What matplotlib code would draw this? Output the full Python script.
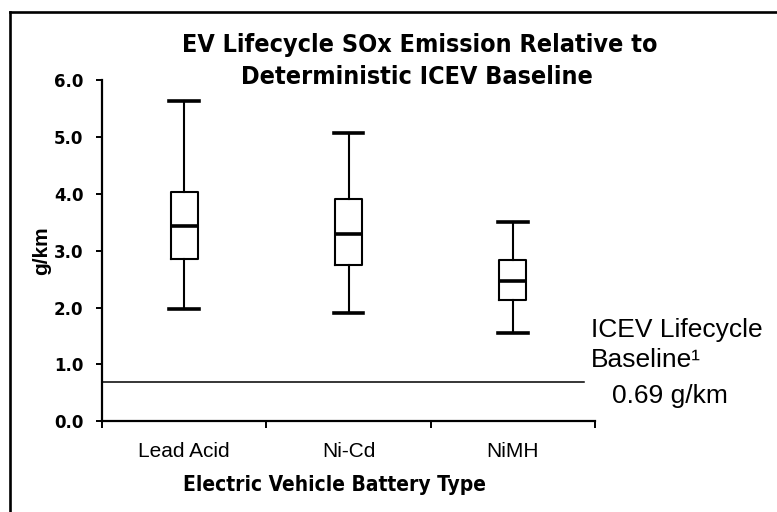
import matplotlib
matplotlib.use("Agg")
import matplotlib.pyplot as plt
from matplotlib.lines import Line2D

# battery types and box statistics (g/km)
batteries = ["Lead Acid", "Ni-Cd", "NiMH"]
whisk_lo  = [1.97, 1.90, 1.55]
q1        = [2.85, 2.75, 2.13]
medians   = [3.43, 3.30, 2.47]
q3        = [4.03, 3.91, 2.83]
whisk_hi  = [5.63, 5.07, 3.51]

ICEV_BASE = 0.69          # deterministic ICEV lifecycle baseline
YTICKS    = [0.0, 1.0, 2.0, 3.0, 4.0, 5.0, 6.0]

ARIAL = ["Liberation Sans", "DejaVu Sans"]
COND  = dict(family="DejaVu Sans", fontstretch="condensed", fontweight="bold")

stats = [dict(label=b, whislo=lo, q1=a, med=m, q3=c, whishi=hi)
         for b, lo, a, m, c, hi in zip(batteries, whisk_lo, q1, medians, q3, whisk_hi)]

fig = plt.figure(figsize=(7.77, 5.12), dpi=100)
ax = fig.add_axes([0.1313, 0.1771, 0.6345, 0.6667])

pos = list(range(1, len(batteries) + 1))
ax.bxp(stats, positions=pos, widths=0.165, capwidths=0.18, showfliers=False,
       boxprops=dict(color="black", lw=1.5),
       whiskerprops=dict(color="black", lw=1.5),
       capprops=dict(color="black", lw=2.6),
       medianprops=dict(color="black", lw=2.6))

# baseline reference line
ax.axhline(ICEV_BASE, xmin=0, xmax=0.978, color="black", lw=1.1)

ax.set_xlim(0.5, len(batteries) + 0.5)
ax.set_ylim(0, 6)
for s in ("top", "right"):
    ax.spines[s].set_visible(False)
for s in ("left", "bottom"):
    ax.spines[s].set_linewidth(1.6)

ax.set_yticks(YTICKS)
ax.set_yticklabels([f"{v:.1f}" for v in YTICKS], fontsize=12,
                   fontweight="bold", family="DejaVu Sans")
ax.tick_params(axis="y", direction="out", length=4.3, width=1.4, pad=9)

# category boundaries as ticks, names at the centres
ax.set_xticks([p - 0.5 for p in pos] + [pos[-1] + 0.5])
ax.set_xticklabels([])
ax.tick_params(axis="x", which="major", direction="out", length=5, width=1.4)
ax.set_xticks(pos, minor=True)
ax.set_xticklabels(batteries, minor=True, fontsize=15, family=ARIAL)
ax.tick_params(axis="x", which="minor", length=0, pad=15)

fig.text(0.540, 0.912, "EV Lifecycle SOx Emission Relative to", ha="center", va="center",
         fontsize=18, **COND)
fig.text(0.537, 0.850, "Deterministic ICEV Baseline", ha="center", va="center",
         fontsize=18, **COND)
fig.text(0.431, 0.053, "Electric Vehicle Battery Type", ha="center", va="center",
         fontsize=15, **COND)
fig.text(0.053, 0.51, "g/km", ha="center", va="center", rotation=90,
         fontsize=15, fontweight="bold", family=ARIAL)

# baseline annotation to the right of the plot
yx = ax.get_yaxis_transform()
ax.text(0.991, 1.60, "ICEV Lifecycle", transform=yx,
        ha="left", va="center", fontsize=19, family=ARIAL, clip_on=False)
ax.text(0.991, 1.08, "Baseline\u00b9", transform=yx,
        ha="left", va="center", fontsize=19, family=ARIAL, clip_on=False)
ax.text(1.034, 0.45, f"{ICEV_BASE:.2f} g/km", transform=yx,
        ha="left", va="center", fontsize=19, family=ARIAL, clip_on=False)

# outer frame: only its left and top edges fall inside the image
fx, fy = 9.5 / 777, 1 - 11.5 / 512
fig.add_artist(Line2D([fx, fx], [0, fy], transform=fig.transFigure, color="black", lw=1.9))
fig.add_artist(Line2D([fx, 1], [fy, fy], transform=fig.transFigure, color="black", lw=1.9))

fig.savefig("out.png", dpi=100, facecolor="white")
